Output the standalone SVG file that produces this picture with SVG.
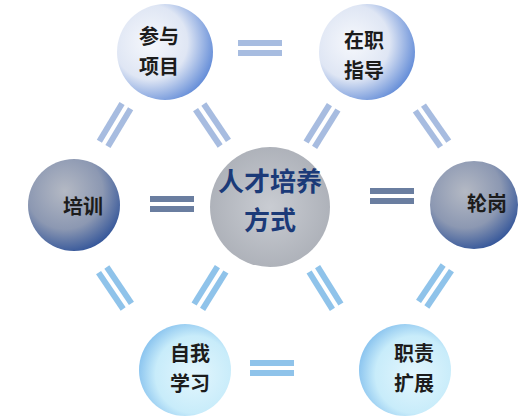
<svg xmlns="http://www.w3.org/2000/svg" width="522" height="416" viewBox="0 0 522 416">
<defs>
<radialGradient id="gTop" cx="0.35" cy="0.4" r="0.7">
<stop offset="0" stop-color="#f6f8fc"/>
<stop offset="0.55" stop-color="#dfe6f4"/>
<stop offset="1" stop-color="#5c87d6"/>
</radialGradient>
<radialGradient id="gMid" cx="0.4" cy="0.35" r="0.75">
<stop offset="0" stop-color="#b4b9c4"/>
<stop offset="0.55" stop-color="#8c98b2"/>
<stop offset="1" stop-color="#1f4694"/>
</radialGradient>
<radialGradient id="gBot" cx="0.6" cy="0.55" r="0.7">
<stop offset="0" stop-color="#e3f6fd"/>
<stop offset="0.6" stop-color="#c8ecfa"/>
<stop offset="1" stop-color="#6fb2ea"/>
</radialGradient>
<radialGradient id="gCen" cx="0.5" cy="0.5" r="0.6">
<stop offset="0" stop-color="#c9ccd2"/>
<stop offset="1" stop-color="#a9adb5"/>
</radialGradient>
<g id="eq">
<rect x="-22" y="-8" width="44" height="6"/>
<rect x="-22" y="2" width="44" height="6"/>
</g>
</defs>
<style>
.lbl{font-family:"Noto Sans CJK SC","Liberation Sans",sans-serif;font-weight:bold;font-size:20px;fill:#1c1c1c;text-anchor:middle}
.cen{font-family:"Noto Sans CJK SC","Liberation Sans",sans-serif;font-weight:bold;font-size:26px;fill:#1b3a78;text-anchor:middle}
.c1{fill:#a7bce0}
.c2{fill:#6a7ea0}
.c3{fill:#8fc3ea}
</style>
<rect width="522" height="416" fill="#ffffff"/>
<g id="connectors">
<use href="#eq" class="c1" transform="translate(260,48)"/>
<use href="#eq" class="c2" transform="translate(172,204)"/>
<use href="#eq" class="c2" transform="translate(392,196)"/>
<use href="#eq" class="c3" transform="translate(272,368)"/>
<use href="#eq" class="c1" transform="translate(115,125) rotate(-59)"/>
<use href="#eq" class="c1" transform="translate(212,125) rotate(56)"/>
<use href="#eq" class="c1" transform="translate(322,126) rotate(-58)"/>
<use href="#eq" class="c1" transform="translate(432,126) rotate(55)"/>
<use href="#eq" class="c3" transform="translate(115,288) rotate(56)"/>
<use href="#eq" class="c3" transform="translate(210,288) rotate(-58)"/>
<use href="#eq" class="c3" transform="translate(325,288) rotate(58)"/>
<use href="#eq" class="c3" transform="translate(435,286) rotate(-56)"/>
</g>
<g id="center">
<circle cx="270" cy="207" r="60" fill="url(#gCen)"/>
<text class="cen" x="270" y="191">人才培养</text>
<text class="cen" x="270" y="230">方式</text>
</g>
<g id="n-canyu">
<circle cx="165" cy="52" r="48" fill="url(#gTop)"/>
<text class="lbl" x="159" y="44">参与</text>
<text class="lbl" x="159" y="74">项目</text>
</g>
<g id="n-zaizhi">
<circle cx="367" cy="52" r="48" fill="url(#gTop)"/>
<text class="lbl" x="364" y="48">在职</text>
<text class="lbl" x="364" y="78">指导</text>
</g>
<g id="n-peixun">
<circle cx="74" cy="205" r="46" fill="url(#gMid)"/>
<text class="lbl" x="83" y="214">培训</text>
</g>
<g id="n-lungang">
<circle cx="474" cy="205" r="44" fill="url(#gMid)"/>
<text class="lbl" x="487" y="211">轮岗</text>
</g>
<g id="n-ziwo">
<circle cx="185" cy="370" r="46" fill="url(#gBot)"/>
<text class="lbl" x="190" y="361">自我</text>
<text class="lbl" x="190" y="391">学习</text>
</g>
<g id="n-zhize">
<circle cx="405" cy="370" r="46" fill="url(#gBot)"/>
<text class="lbl" x="414" y="361">职责</text>
<text class="lbl" x="414" y="391">扩展</text>
</g>
</svg>
